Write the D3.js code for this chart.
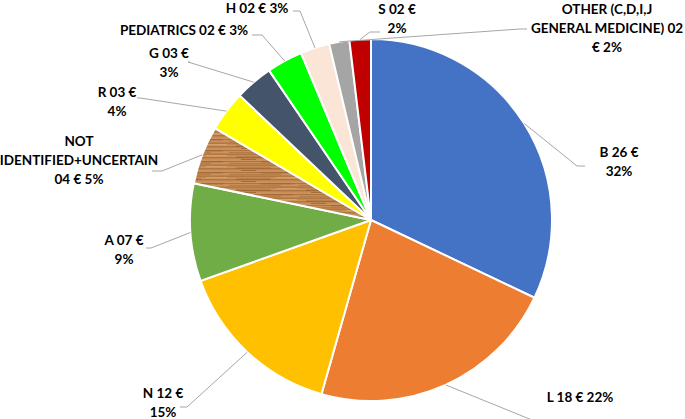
<!DOCTYPE html>
<html><head><meta charset="utf-8">
<script src="https://cdn.jsdelivr.net/npm/d3@7"></script>
<style>
html,body{margin:0;padding:0;background:#fff;}
svg text{font-family:Lato,"Open Sans",sans-serif;font-weight:bold;fill:#000;}
</style></head>
<body><svg id="c" width="685" height="419"></svg>
<script>
// ---- data ----
const categories = ["B","L","N","A","NOT IDENTIFIED+UNCERTAIN","R","G","PEDIATRICS","H","OTHER (C,D,I,J GENERAL MEDICINE)","S"];
const amounts    = ["26","18","12","07","04","03","03","02","02","02","02"];
const percents   = ["32%","22%","15%","9%","5%","4%","3%","3%","3%","2%","2%"];
const shares     = [32.0, 22.3, 15.1, 8.7, 5.2, 3.6, 3.4, 3.2, 2.6, 1.8, 1.9];

// ---- styles / layout ----
const colors = ["#4472c4","#ed7d31","#ffc000","#70ad47","url(#wood)","#ffff00","#44546a","#00ff00","#fbe5d6","#a5a5a5","#c00000"];
const cx = 371, cy = 220, R = 181;
const lineH = 19;
const labelLayout = [
  {lines:d=>[`${d.cat} ${d.amt} €`, d.pct], x:619, y:152, pts:[[577,166],[585,166]]},
  {lines:d=>[`${d.cat} ${d.amt} € ${d.pct}`], x:580, y:397, pts:[[532,420],[540,420]]},
  {lines:d=>[`${d.cat} ${d.amt} €`, d.pct], x:163, y:393, pts:[[187,407],[180,407]]},
  {lines:d=>[`${d.cat} ${d.amt} €`, d.pct], x:124, y:240, pts:[[151,248],[146,248]]},
  {lines:d=>["NOT","IDENTIFIED+UNCERTAIN",`${d.amt} € ${d.pct}`], x:79, y:140.5, pts:[[162,171],[152,171]]},
  {lines:d=>[`${d.cat} ${d.amt} €`, d.pct], x:117, y:92, pts:[[140,98],[137,98]]},
  {lines:d=>[`${d.cat} ${d.amt} €`, d.pct], x:169, y:53, pts:[[188,62],[190,62]]},
  {lines:d=>[`${d.cat} ${d.amt} € ${d.pct}`], x:184, y:30, pts:[[262,35],[252,35]]},
  {lines:d=>[`${d.cat} ${d.amt} € ${d.pct}`], x:257, y:7.5, pts:[[300,11],[293,11]]},
  {lines:d=>["OTHER (C,D,I,J","GENERAL MEDICINE) 02",`€ ${d.pct}`], x:607, y:8.5, pts:[[520,29],[527,29]]},
  {lines:d=>[`${d.cat} ${d.amt} €`, d.pct], x:397, y:8.5, pts:[[370,32],[380,32]]}
];

const data = categories.map((c,i)=>({cat:c, amt:amounts[i], pct:percents[i], v:shares[i], i}));

const svg = d3.select("#c");
const defs = svg.append("defs");
const pat = defs.append("pattern").attr("id","wood").attr("patternUnits","userSpaceOnUse")
  .attr("width",70).attr("height",11);
pat.append("rect").attr("width",70).attr("height",11).attr("fill","#c68b55");
const grain = [[0.8,"#a86c38",0.9],[2.2,"#d9a470",0.7],[3.4,"#9c6130",0.6],[4.9,"#b97a43",0.8],[6.1,"#dcab78",0.6],[7.4,"#a0652f",0.7],[8.7,"#c99058",0.8],[9.9,"#94582a",0.5]];
grain.forEach(g=>pat.append("line").attr("x1",0).attr("x2",70).attr("y1",g[0]).attr("y2",g[0])
  .attr("stroke",g[1]).attr("stroke-width",g[2]));
[[5,40,3.0,"#8a5228"],[30,62,7.9,"#8e5529"],[45,66,1.5,"#e0b080"],[10,25,5.5,"#8f5529"],[50,68,9.4,"#dba673"]].forEach(s=>
  pat.append("line").attr("x1",s[0]).attr("x2",s[1]).attr("y1",s[2]).attr("y2",s[2]).attr("stroke",s[3]).attr("stroke-width",0.6));

const pie = d3.pie().value(d=>d.v).sort(null);
const arcs = pie(data);
const arc = d3.arc().innerRadius(0).outerRadius(R);
const rim = d3.arc().innerRadius(R).outerRadius(R);

const g = svg.append("g").attr("transform",`translate(${cx},${cy})`);
g.selectAll("path.slice").data(arcs).join("path").attr("class","slice")
  .attr("d",arc).attr("fill",(d,i)=>colors[i]).attr("stroke","#fff").attr("stroke-width",2).attr("stroke-linejoin","round");

svg.selectAll("polyline.lead").data(arcs).join("polyline").attr("class","lead")
  .attr("points",(d,i)=>{
    const c = rim.centroid(d);
    const p = [[c[0]+cx, c[1]+cy], ...labelLayout[i].pts];
    return p.map(q=>q.join(",")).join(" ");
  })
  .attr("fill","none").attr("stroke","#a6a6a6").attr("stroke-width",1);

data.forEach((d,i)=>{
  const L = labelLayout[i];
  const t = svg.append("text").attr("text-anchor","middle").attr("font-size",13.5);
  L.lines(d).forEach((s,k)=>{
    t.append("tspan").attr("x",L.x).attr("y",L.y + k*lineH + 5).text(s);
  });
});
</script></body></html>
